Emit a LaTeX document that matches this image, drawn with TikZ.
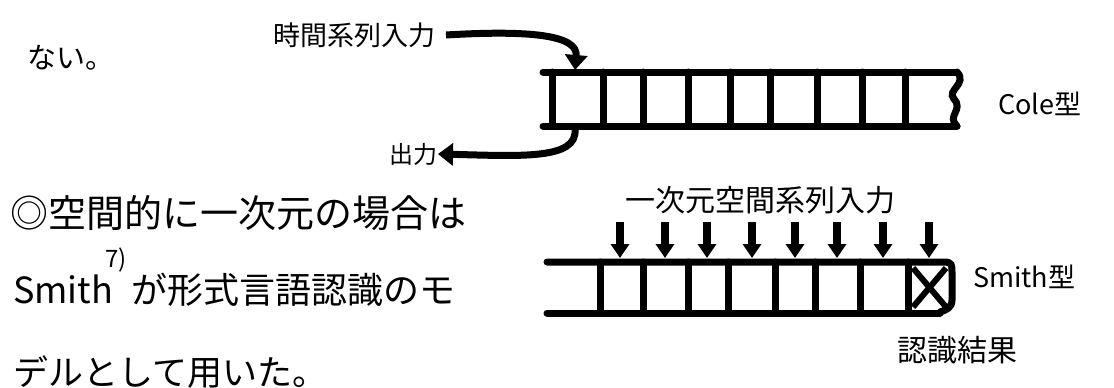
\documentclass[tikz,border=0pt]{standalone}
\usepackage{fontspec}
\newfontfamily\jpfont{Noto Sans CJK JP}
\usetikzlibrary{arrows.meta}

\tikzset{
  jtext/.style={font=\jpfont\fontsize{#1}{#1}\selectfont, inner sep=0pt},
  tape/.style={line width=7pt, line cap=round},
  bigarrow/.style={line width=7pt, -{Triangle[width=22pt,length=15pt]}},
  inarrow/.style={line width=8pt, -{Triangle[width=18pt,length=14pt]}}
}

\begin{document}
\begin{tikzpicture}[x=1pt,y=-1pt]
  \useasboundingbox (0,0) rectangle (1114,388);

  % Left text
  \node[jtext=29, anchor=west] (l1) at (27,58) {ない。};
  \node[jtext=38, anchor=west] (l2) at (10,213) {◎空間的に一次元の場合は};
  \node[jtext=36, anchor=west] (l3) at (13,290) {Smith\hspace{0.5em}が形式言語認識のモ};
  \node[jtext=24] (ref) at (116,260) {7)};
  \node[jtext=35, anchor=west] (l4) at (13,372) {デルとして用いた。};

  % Cole tape
  \draw[tape] (543,72) -- (957,72);
  \draw[tape] (543,126) -- (957,126);
  \foreach \x in {552,603,643,688,730,770,817,862,905}
    \draw[tape] (\x,72) -- (\x,126);
  \draw[tape] (957,72) .. controls (968,84) and (946,90) .. (954,99)
    .. controls (964,110) and (946,116) .. (957,126);

  % Cole labels
  \node[jtext=27, anchor=east] (tin) at (436,35) {時間系列入力};
  \node[jtext=24, anchor=east] (tout) at (438,154) {出力};
  \node[jtext=27, anchor=west] (cole) at (998,104) {Cole型};
  \coordinate (cin) at (575,70);
  \coordinate (cout) at (575,129);
  \draw[bigarrow] (tin.east) ++(10,0) coordinate (tinx)
    .. controls (530,30) and (578,35) .. (cin);
  \draw[bigarrow] (cout) .. controls (578,160) and (520,156) .. (tout.east);

  % Smith tape
  \draw[tape] (547,262) -- (944,262) .. controls (952,262) and (952,265) .. (952,272)
    -- (952,300) .. controls (952,308) and (946,310) .. (940,312);
  \draw[tape] (547,313) -- (940,313);
  \foreach \x in {600,643,688,728,775,815,860,908}
    \draw[tape] (\x,262) -- (\x,313);
  \draw[line width=6pt] (913,268) -- (946,307);
  \draw[line width=6pt] (946,268) -- (913,307);

  % Smith labels
  \node[jtext=30] (sin) at (760,200) {一次元空間系列入力};
  \node[jtext=27, anchor=west] (smith) at (973,277) {Smith型};
  \node[jtext=30] (res) at (957,350) {認識結果};

  % Smith inputs
  \foreach \x [count=\i] in {620,665,707,752,795,837,883,929} {
    \coordinate (s\i) at (\x,222);
    \coordinate (t\i) at (\x,258);
    \draw[inarrow] (s\i) -- (t\i);
  }
\end{tikzpicture}
\end{document}
